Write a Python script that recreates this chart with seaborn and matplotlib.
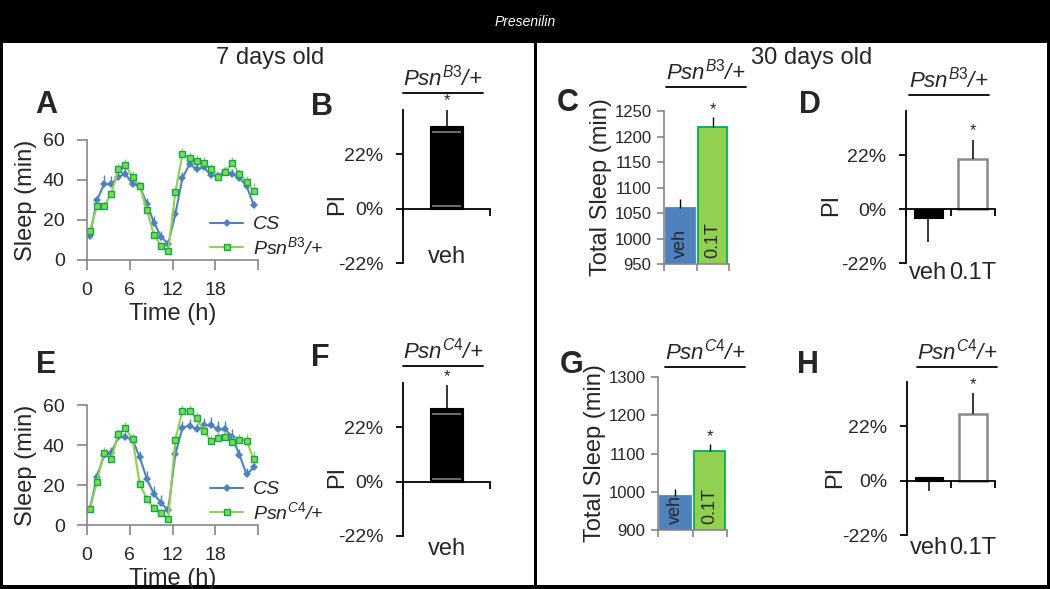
import numpy as np
import pandas as pd
import seaborn as sns
import matplotlib.pyplot as plt
from matplotlib.patches import Rectangle
from matplotlib.lines import Line2D
from matplotlib.transforms import blended_transform_factory

# ---- data ----
hours = [0.4, 1.4, 2.4, 3.4, 4.4, 5.4, 6.4, 7.4, 8.4, 9.4, 10.4, 11.4,
         12.4, 13.4, 14.4, 15.4, 16.4, 17.4, 18.4, 19.4, 20.4, 21.4, 22.4, 23.4]

# panel A (7 days, Psn B3)
cs_a = [12, 30, 37.8, 38, 41.7, 43, 38, 37, 28, 18.7, 11.7, 8,
        23, 41, 48, 45.3, 46.3, 42.5, 42, 44, 43, 41, 37, 27.5]
cs_a_err = [1.5, 2, 4.5, 4, 3, 3, 2, 2, 3, 3.5, 3, 2.5,
            3, 3, 2.5, 2.5, 2.5, 2, 2, 2.5, 2.5, 2.5, 2.5, 2]
psn_a = [14.5, 27, 27, 33, 45.3, 47.5, 41.3, 37, 25, 12.5, 7, 4.5,
         34, 53, 51, 49.5, 48.7, 45.3, 41.7, 43.8, 48.7, 42.8, 39, 34.5]
psn_a_err = [2, 2, 2, 2.5, 3, 3, 3, 2, 2.5, 2, 2, 1.5,
             3, 3, 3, 3, 3, 2.5, 2, 2.5, 3, 2.5, 3, 4]

# panel E (7 days, Psn C4)
cs_e = [8, 24.2, 35, 36, 44, 44, 42.5, 34, 23, 15.5, 11, 7.5,
        35.5, 48.7, 49.7, 47.8, 49.8, 49.8, 47.8, 47.8, 44, 35, 25.3, 28.8]
cs_e_err = [1.5, 3, 3, 3, 3, 2.5, 3, 3, 4, 4, 4, 4,
            4, 3.5, 3.5, 3, 3.5, 4, 4, 4, 4, 3, 3, 2]
psn_e = [7.8, 21.7, 36.2, 32.8, 45.5, 48.3, 42.8, 20.5, 13, 8.3, 5.8, 3.2,
         42.5, 57.2, 57.2, 53.3, 47, 42.2, 43.7, 44.2, 41.3, 42.5, 42.2, 32.8]
psn_e_err = [1.5, 2, 3, 2.5, 2.5, 3, 2.5, 2, 2, 2, 2, 1.5,
             3, 3, 3, 3, 3, 3, 3, 3, 3, 3, 3.5, 4]

# panels B / F (7 days, PI)
pi_b = [0.336]
pi_b_err = [0.064]
pi_f = [0.30]
pi_f_err = [0.09]

# panels C / G (30 days, total sleep)
treat = ["veh", "0.1T"]
total_c = [1060, 1219]
total_c_err = [17, 19]
total_g = [989, 1106]
total_g_err = [18, 18]

# panels D / H (30 days, PI)
pi_d = [-0.036, 0.206]
pi_d_lo = [0.097, 0.0]
pi_d_hi = [0.0, 0.077]
pi_h = [0.016, 0.27]
pi_h_lo = [0.056, 0.0]
pi_h_hi = [0.0, 0.085]

BLUE = "#4F81BD"
GREEN = "#92D050"
GREEN_EDGE = "#00B050"
GREY = "#868686"

W, H = 1050, 589

sns.set_theme(style="ticks")
plt.rcParams["font.family"] = ["Liberation Sans", "DejaVu Sans"]
plt.rcParams["mathtext.fontset"] = "custom"
plt.rcParams["mathtext.it"] = "Liberation Sans:italic"
plt.rcParams["mathtext.rm"] = "Liberation Sans"
plt.rcParams["mathtext.default"] = "it"


def rect(x0, y0, x1, y1):
    return [x0 / W, 1 - y1 / H, (x1 - x0) / W, (y1 - y0) / H]


def fp(x, y):
    return (x / W, 1 - y / H)


fig = plt.figure(figsize=(10.5, 5.89), dpi=100)

# frame
for (x0, y0, x1, y1) in [(0, 0, W, 43), (0, 0, 3, H), (W - 3, 0, W, H),
                         (0, H - 4, W, H), (534, 43, 537, H)]:
    fig.add_artist(Rectangle(fp(x0, y1), (x1 - x0) / W, (y1 - y0) / H,
                             transform=fig.transFigure, facecolor="black",
                             edgecolor="none", zorder=0))
fig.text(*fp(525, 22), "Presenilin", color="white", style="italic",
         fontsize=10, ha="center", va="center")
fig.text(*fp(270, 58), "7 days old", fontsize=17, ha="center", va="center")
fig.text(*fp(812, 58), "30 days old", fontsize=17, ha="center", va="center")

PSN_B3 = r"$Psn^{B3}$/+"
PSN_C4 = r"$Psn^{C4}$/+"


def sleep_panel(ax, cs, cs_err, psn, psn_err, psn_label, leg_y):
    zeros = [0] * len(hours)
    ax.errorbar(hours, cs, yerr=[zeros, cs_err], fmt="none", ecolor=BLUE,
                elinewidth=1.0)
    sns.lineplot(x=hours, y=cs, ax=ax, color=BLUE, lw=1.5, marker="D",
                 markersize=3.8, markeredgewidth=0, label="CS")
    ax.errorbar(hours, psn, yerr=[zeros, psn_err], fmt="none", ecolor=GREEN,
                elinewidth=1.0)
    sns.lineplot(x=hours, y=psn, ax=ax, color=GREEN, lw=1.5, marker="s",
                 markersize=5, markerfacecolor=GREEN, markeredgecolor=GREEN_EDGE,
                 markeredgewidth=1.0, label=psn_label)
    ax.set_xlim(0, 24)
    ax.set_ylim(0, 60)
    ax.set_xticks([0, 6, 12, 18, 24])
    ax.set_xticklabels(["0", "6", "12", "18", ""])
    ax.set_yticks([0, 20, 40, 60])
    sns.despine(ax=ax)
    for s in ["left", "bottom"]:
        ax.spines[s].set_color(GREY)
        ax.spines[s].set_linewidth(1.2)
    ax.tick_params(direction="out", length=7, width=1.2, color=GREY,
                   labelsize=14, pad=9)
    ax.set_xlabel("Time (h)", fontsize=17, labelpad=3)
    ax.set_ylabel("Sleep (min)", fontsize=17, labelpad=4)
    ax.legend(frameon=False, loc="center left",
              bbox_to_anchor=fp(210, leg_y), bbox_transform=fig.transFigure,
              prop={"style": "italic", "size": 14}, handlelength=1.7,
              handletextpad=0.5, labelspacing=0.15, borderpad=0,
              borderaxespad=0)


def total_panel(ax, vals, errs, ylim, yticks):
    sns.barplot(x=treat, y=vals, hue=treat, palette=[BLUE, GREEN], width=0.9,
                saturation=1, errorbar=None, legend=False, ax=ax)
    for p, ec in zip(ax.patches, [BLUE, GREEN_EDGE]):
        p.set_edgecolor(ec)
        p.set_linewidth(1.3)
    ax.errorbar([0, 1], vals, yerr=[[0, 0], errs], fmt="none", ecolor="black",
                elinewidth=1)
    ax.set_xlim(-0.5, 1.5)
    ax.set_ylim(*ylim)
    ax.set_yticks(yticks)
    ax.set_xticks([-0.5, 0.5, 1.5])
    ax.set_xticklabels([])
    ax.set_xlabel("")
    sns.despine(ax=ax)
    for s in ["left", "bottom"]:
        ax.spines[s].set_color(GREY)
        ax.spines[s].set_linewidth(1.2)
    ax.tick_params(direction="out", length=5, width=1.2, color=GREY,
                   labelsize=12, pad=4)
    ax.set_ylabel("Total Sleep (min)", fontsize=17, labelpad=2)
    for i, lab in enumerate(treat):
        ax.annotate(lab, xy=(i, ylim[0]), xytext=(0, 4),
                    textcoords="offset points", rotation=90, ha="center",
                    va="bottom", fontsize=13)
    ax.annotate("*", xy=(1, vals[1] + errs[1]), xytext=(0, 0),
                textcoords="offset points", ha="center", va="bottom",
                fontsize=12, annotation_clip=False)


def pi_panel(ax, cats, vals, lo, hi, fills, edges, width, lab_y, star_idx):
    sns.barplot(x=cats, y=vals, hue=cats, palette=fills, width=width,
                saturation=1, errorbar=None, legend=False, ax=ax)
    for p, ec in zip(ax.patches, edges):
        p.set_edgecolor(ec)
        p.set_linewidth(1.8 if ec != "black" else 0.8)
    pos = list(range(len(cats)))
    ax.errorbar(pos, vals, yerr=[lo, hi], fmt="none", ecolor="black",
                elinewidth=1.1)
    n = len(cats)
    ax.set_xlim(-0.5, n - 0.5)
    ax.set_ylim(-0.22, 0.40)
    ax.set_yticks([-0.22, 0, 0.22])
    ax.set_yticklabels(["-22%", "0%", "22%"])
    ax.set_xticks([i + 0.5 for i in range(-1, n)])
    ax.set_xticklabels([])
    ax.set_xlabel("")
    ax.set_ylabel("")
    sns.despine(ax=ax)
    ax.spines["bottom"].set_position(("data", 0))
    for s in ["left", "bottom"]:
        ax.spines[s].set_color("black")
        ax.spines[s].set_linewidth(1.3)
    ax.tick_params(direction="out", length=5, width=1.3, color="black",
                   labelsize=14, pad=9)
    tr = blended_transform_factory(ax.transData, ax.transAxes)
    for i, lab in enumerate(cats):
        ax.text(i, lab_y, lab, transform=tr, ha="center", va="center",
                fontsize=17)
    top = vals[star_idx] + hi[star_idx]
    ax.annotate("*", xy=(star_idx, top), xytext=(0, 1),
                textcoords="offset points", ha="center", va="bottom",
                fontsize=12, annotation_clip=False)


ax_a = fig.add_axes(rect(87, 140, 258, 260))
sleep_panel(ax_a, cs_a, cs_a_err, psn_a, psn_a_err, PSN_B3, 237)
ax_e = fig.add_axes(rect(87, 405, 258, 525))
sleep_panel(ax_e, cs_e, cs_e_err, psn_e, psn_e_err, PSN_C4, 502)

ax_b = fig.add_axes(rect(403, 110, 490, 263))
pi_panel(ax_b, ["veh"], pi_b, [0], pi_b_err, ["black"], ["black"], 0.38,
         0.036, 0)
ax_f = fig.add_axes(rect(403, 383, 490, 536))
pi_panel(ax_f, ["veh"], pi_f, [0], pi_f_err, ["black"], ["black"], 0.38,
         -0.085, 0)
# bevel highlights on the black bars
for ax, v in [(ax_b, pi_b), (ax_f, pi_f)]:
    ax.hlines([v[0] - 0.025, 0.01], -0.17, 0.17, color="#6e6e6e", lw=1.4)

ax_c = fig.add_axes(rect(664, 111, 729, 264))
total_panel(ax_c, total_c, total_c_err, (950, 1250),
            [950, 1000, 1050, 1100, 1150, 1200, 1250])
ax_g = fig.add_axes(rect(658, 377, 727, 530))
total_panel(ax_g, total_g, total_g_err, (900, 1300),
            [900, 1000, 1100, 1200, 1300])

ax_d = fig.add_axes(rect(906, 111, 995, 263))
pi_panel(ax_d, treat, pi_d, pi_d_lo, pi_d_hi, ["black", "white"],
         ["black", "#8a8a8a"], 0.65, -0.065, 1)
ax_h = fig.add_axes(rect(907, 382, 995, 535))
pi_panel(ax_h, treat, pi_h, pi_h_lo, pi_h_hi, ["black", "white"],
         ["black", "#8a8a8a"], 0.65, -0.085, 1)

# "PI" labels and panel letters
for x, y in [(337, 204), (337, 477), (831, 205), (835, 477)]:
    fig.text(*fp(x, y), "PI", rotation=90, fontsize=17, ha="center",
             va="center")
for lab, x, y in [("A", 46, 105), ("E", 46, 365), ("B", 322, 107),
                  ("F", 320, 358), ("C", 568, 103), ("G", 572, 365),
                  ("D", 810, 105), ("H", 808, 365)]:
    fig.text(*fp(x, y), lab, fontsize=22, fontweight="bold", ha="center",
             va="center")

# underlined genotype titles
titles = [(PSN_B3, 443, 78), (PSN_C4, 443, 351), (PSN_B3, 706, 72),
          (PSN_C4, 705, 352), (PSN_B3, 949, 80), (PSN_C4, 957, 352)]
fig.canvas.draw()
renderer = fig.canvas.get_renderer()
for lab, x, y in titles:
    t = fig.text(*fp(x, y), lab, fontsize=16, style="italic", ha="center",
                 va="center")
    bb = t.get_window_extent(renderer)
    yl = (bb.y0 - 2) / (H)
    fig.add_artist(Line2D([bb.x0 / W, bb.x1 / W], [yl, yl],
                          transform=fig.transFigure, color="black", lw=1.3))

fig.savefig("out.png", dpi=100)
